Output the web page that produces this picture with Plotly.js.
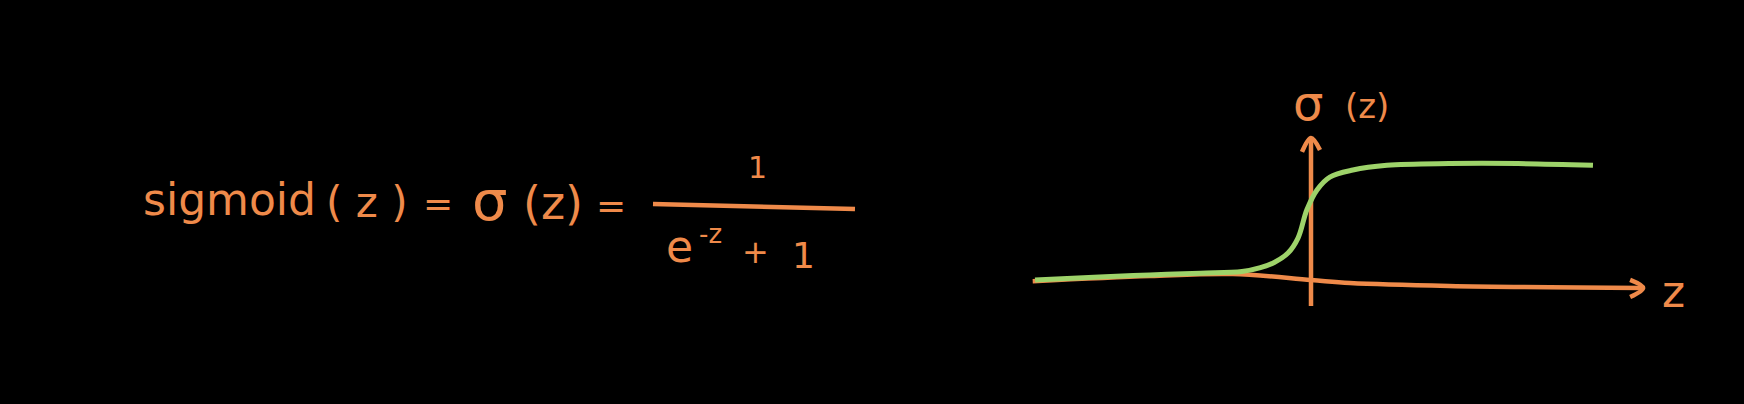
<!DOCTYPE html>
<html>
<head>
<meta charset="utf-8">
<script src="https://cdn.plot.ly/plotly-3.0.1.min.js"></script>
<style>
  html, body { margin:0; padding:0; background:#000; }
  #sketch { width:1744px; height:404px; }
</style>
</head>
<body>
<div id="sketch"></div>
<script>

// ==========================================================
// DATA
// ==========================================================

// green sigmoid curve
let curveZ     = [-6.0, -4.6, -3.5, -2.4, -1.5, -1.1, -0.8, -0.5, -0.28, -0.09, 0.13, 0.41, 0.91, 1.65, 3.0, 4.5, 6.13];
let curveSigma = [0.0, 0.026, 0.043, 0.058, 0.072, 0.105, 0.15, 0.23, 0.36, 0.6, 0.77, 0.88, 0.94, 0.98, 0.995, 0.995, 0.98];

// hand drawn horizontal axis (z)
let axisZ      = [-6.05, -3.5, -1.7, 0.0, 0.85, 3.0, 7.22];
let axisZSigma = [-0.01, 0.034, 0.051, 0.0, -0.026, -0.051, -0.068];

// vertical axis (sigma)
let axisSigmaZ = [0, 0];
let axisSigma  = [-0.222, 1.214];


// ==========================================================
// STYLE
// ==========================================================

const ORANGE = "#EF8A4A";
const GREEN  = "#9ED36A";
const FONT   = "DejaVu Sans";

const W = 1744;
const H = 404;

// pixel scale of the sketch: origin of the axes + px per unit
const X0 = 1311, PXZ = 46;
const Y0 = 280,  PXS = 117;

function dz(px){ return px / PXZ; }
function ds(px){ return -px / PXS; }


// ==========================================================
// TEXT
// ==========================================================

function txt(text, px, py, size){

    return {
        text: text,
        xref: "paper",
        yref: "paper",
        x: px / W,
        y: 1 - py / H,
        xanchor: "center",
        yanchor: "middle",
        showarrow: false,
        font: { family: FONT, size: size, color: ORANGE }
    };

}


let annotations = [

    // left formula
    txt("sigmoid", 229, 199, 44),
    txt("( z )", 367, 202, 42),
    txt("=", 438, 203, 36),
    txt("σ", 490, 200, 56),
    txt("(z)", 553, 203, 46),
    txt("=", 611, 205, 36),

    txt("1", 757, 168, 30),
    txt("e", 679, 246, 44),
    txt("-z", 710, 234, 26),
    txt("+", 755, 252, 32),
    txt("1", 803, 255, 36),

    // chart labels
    txt("σ", 1308, 103, 48),
    txt("(z)", 1367, 106, 34),
    txt("z", 1673, 291, 44)

];


// ==========================================================
// TRACES
// ==========================================================

function line(x, y, color, width){

    return {
        x: x,
        y: y,
        type: "scatter",
        mode: "lines",
        line: { color: color, width: width, shape: "spline", smoothing: 1 },
        hoverinfo: "skip"
    };

}


let zTip = axisZ.length - 1;
let sTip = axisSigma.length - 1;

let traces = [

    // z axis + arrowhead
    line(axisZ, axisZSigma, ORANGE, 4.5),
    line(
        [axisZ[zTip] + dz(-13), axisZ[zTip], axisZ[zTip] + dz(-13)],
        [axisZSigma[zTip] + ds(-8), axisZSigma[zTip], axisZSigma[zTip] + ds(9)],
        ORANGE, 4.5
    ),

    // sigma axis + arrowhead
    line(axisSigmaZ, axisSigma, ORANGE, 4.5),
    line(
        [axisSigmaZ[sTip] + dz(-9), axisSigmaZ[sTip], axisSigmaZ[sTip] + dz(9)],
        [axisSigma[sTip] + ds(14), axisSigma[sTip], axisSigma[sTip] + ds(12)],
        ORANGE, 4.5
    ),

    // sigmoid
    line(curveZ, curveSigma, GREEN, 5)

];


// ==========================================================
// LAYOUT
// ==========================================================

let hidden = {
    visible: false,
    showgrid: false,
    zeroline: false,
    fixedrange: true
};

let layout = {

    width: W,
    height: H,
    margin: { l:0, r:0, t:0, b:0, pad:0 },
    paper_bgcolor: "#000",
    plot_bgcolor: "#000",
    showlegend: false,

    xaxis: Object.assign({ range: [ -X0 / PXZ, (W - X0) / PXZ ] }, hidden),
    yaxis: Object.assign({ range: [ (Y0 - H) / PXS, Y0 / PXS ] }, hidden),

    // fraction bar
    shapes: [
        {
            type: "line",
            xref: "paper",
            yref: "paper",
            x0: 653 / W, y0: 1 - 204 / H,
            x1: 855 / W, y1: 1 - 209 / H,
            line: { color: ORANGE, width: 4.5 }
        }
    ],

    annotations: annotations

};

Plotly.newPlot("sketch", traces, layout, { staticPlot: true, displayModeBar: false });

</script>
</body>
</html>
